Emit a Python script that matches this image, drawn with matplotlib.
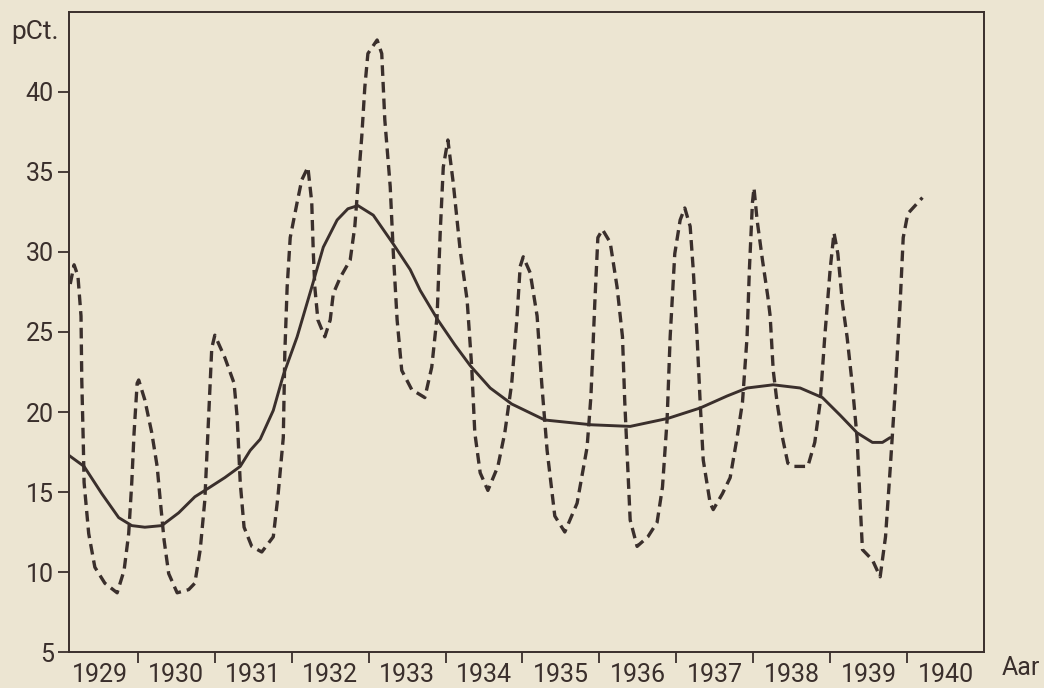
import matplotlib.pyplot as plt
from matplotlib.ticker import FixedLocator, NullFormatter, FixedFormatter

# seasonal unemployment (dashed), x in decimal years
monthly_x = [1929.12, 1929.17, 1929.22, 1929.26, 1929.27, 1929.29, 1929.30, 1929.36, 1929.44, 1929.57,
             1929.73, 1929.82, 1929.88, 1929.92, 1929.95, 1929.99, 1930.01, 1930.09, 1930.18, 1930.25,
             1930.29, 1930.34, 1930.40, 1930.51, 1930.66, 1930.74, 1930.81, 1930.87, 1930.91, 1930.94,
             1930.96, 1931.00, 1931.13, 1931.25, 1931.29, 1931.33, 1931.38, 1931.48, 1931.61, 1931.76,
             1931.82, 1931.89, 1931.91, 1931.94, 1931.98, 1932.07, 1932.13, 1932.21, 1932.26, 1932.28,
             1932.30, 1932.34, 1932.43, 1932.50, 1932.54, 1932.63, 1932.76, 1932.82, 1932.86, 1932.91,
             1932.95, 1932.99, 1933.11, 1933.17, 1933.21, 1933.28, 1933.32, 1933.37, 1933.43, 1933.56,
             1933.73, 1933.82, 1933.89, 1933.93, 1933.97, 1934.03, 1934.10, 1934.19, 1934.28, 1934.34,
             1934.38, 1934.45, 1934.55, 1934.68, 1934.77, 1934.86, 1934.93, 1934.97, 1935.01, 1935.10,
             1935.19, 1935.25, 1935.32, 1935.42, 1935.55, 1935.71, 1935.84, 1935.89, 1935.94, 1935.98,
             1936.04, 1936.14, 1936.23, 1936.30, 1936.33, 1936.37, 1936.40, 1936.49, 1936.63, 1936.75,
             1936.82, 1936.88, 1936.92, 1936.98, 1937.05, 1937.11, 1937.18, 1937.22, 1937.27, 1937.31,
             1937.35, 1937.44, 1937.48, 1937.60, 1937.70, 1937.79, 1937.86, 1937.92, 1937.95, 1937.99,
             1938.01, 1938.05, 1938.12, 1938.19, 1938.22, 1938.26, 1938.31, 1938.38, 1938.45, 1938.52,
             1938.71, 1938.80, 1938.87, 1938.93, 1939.00, 1939.05, 1939.10, 1939.16, 1939.22, 1939.29,
             1939.35, 1939.39, 1939.42, 1939.55, 1939.65, 1939.72, 1939.78, 1939.85, 1939.91, 1939.95,
             1940.01, 1940.20]
monthly_pct = [28.0, 29.2, 28.5, 26.0, 22.0, 18.0, 15.6, 12.4, 10.3, 9.3,
               8.7, 10.1, 12.4, 15.6, 18.7, 21.8, 22.0, 20.75, 18.7, 16.6,
               14.5, 12.0, 9.9, 8.7, 8.9, 9.3, 11.4, 14.5, 18.7, 21.8,
               24.0, 24.8, 23.4, 21.8, 19.7, 15.6, 12.8, 11.6, 11.25, 12.2,
               14.7, 18.4, 23.7, 27.8, 30.9, 33.1, 34.5, 35.3, 33.1, 30.0,
               27.8, 25.75, 24.7, 25.75, 27.4, 28.4, 29.5, 31.6, 34.1, 37.2,
               40.3, 42.4, 43.25, 42.4, 38.25, 34.1, 30.0, 25.75, 22.6, 21.4,
               20.9, 22.8, 26.0, 31.2, 35.3, 37.0, 34.3, 30.1, 27.0, 22.8,
               18.7, 16.2, 15.1, 16.6, 18.7, 21.8, 26.0, 29.1, 29.7, 28.7,
               26.0, 21.8, 17.6, 13.5, 12.5, 14.3, 17.8, 21.0, 26.8, 30.9,
               31.4, 30.6, 27.8, 24.7, 20.6, 16.4, 13.25, 11.6, 12.2, 13.1,
               15.3, 19.5, 24.7, 29.9, 32.0, 32.75, 31.6, 28.9, 24.7, 20.6,
               17.0, 14.3, 13.9, 14.9, 15.9, 18.4, 20.6, 24.7, 28.9, 33.1,
               34.0, 32.0, 29.5, 27.2, 26.0, 22.6, 20.6, 18.4, 16.8, 16.6,
               16.6, 18.1, 20.6, 24.7, 28.9, 31.2, 29.9, 26.8, 24.7, 21.6,
               18.4, 14.3, 11.4, 10.75, 9.7, 12.2, 16.4, 21.6, 26.8, 30.9,
               32.4, 33.4]

# trend line (solid)
trend_x = [1929.10, 1929.30, 1929.53, 1929.75, 1929.92, 1930.09, 1930.31, 1930.53, 1930.74, 1930.92,
           1931.13, 1931.33, 1931.46, 1931.59, 1931.76, 1931.89, 1932.07, 1932.26, 1932.41, 1932.59,
           1932.73, 1932.86, 1933.06, 1933.32, 1933.54, 1933.67, 1933.90, 1934.12, 1934.32, 1934.58,
           1934.86, 1935.29, 1935.90, 1936.40, 1936.89, 1937.31, 1937.66, 1937.92, 1938.26, 1938.61,
           1938.90, 1939.13, 1939.35, 1939.55, 1939.68, 1939.78]
trend_pct = [17.3, 16.6, 14.9, 13.4, 12.9, 12.8, 12.9, 13.7, 14.7, 15.25,
             15.9, 16.6, 17.6, 18.3, 20.1, 22.3, 24.7, 27.8, 30.3, 32.0,
             32.7, 32.9, 32.3, 30.5, 28.9, 27.6, 25.75, 24.2, 22.9, 21.5,
             20.5, 19.5, 19.2, 19.1, 19.6, 20.25, 21.0, 21.5, 21.7, 21.5,
             20.9, 19.8, 18.7, 18.1, 18.1, 18.4]

years = list(range(1929, 1941))
year_bounds = list(range(1930, 1941))
y_ticks = [5, 10, 15, 20, 25, 30, 35, 40]

paper = '#ece5d2'
ink = '#3a2f2c'

plt.rcParams['font.family'] = ['Roboto', 'DejaVu Sans']

fig = plt.figure(figsize=(10.44, 6.88), dpi=100, facecolor=paper)
ax = fig.add_axes([0.0661, 0.0523, 0.8764, 0.9303])
ax.set_facecolor(paper)

ax.plot(monthly_x, monthly_pct, color=ink, lw=2.4, dashes=(3.2, 1.8), dash_capstyle='butt')
ax.plot(trend_x, trend_pct, color=ink, lw=2.1, solid_capstyle='round')

ax.set_xlim(1929.104, 1941.0)
ax.set_ylim(5, 45)

for s in ax.spines.values():
    s.set_color(ink)
    s.set_linewidth(1.4)

# year boundaries as ticks, year names in between
ax.xaxis.set_major_locator(FixedLocator(year_bounds))
ax.xaxis.set_major_formatter(NullFormatter())
ax.xaxis.set_minor_locator(FixedLocator([y + 0.5 for y in years]))
ax.xaxis.set_minor_formatter(FixedFormatter([str(y) for y in years]))
ax.tick_params(axis='x', which='major', length=8, width=1.3, color=ink, direction='out')
ax.tick_params(axis='x', which='minor', length=0, pad=8, labelsize=18, labelcolor=ink)

ax.set_yticks(y_ticks)
ax.set_yticklabels([str(v) for v in y_ticks])
ax.tick_params(axis='y', length=8, width=1.3, color=ink, pad=3, labelsize=18, labelcolor=ink)

fig.text(0.011, 0.953, 'pCt.', fontsize=19, color=ink, ha='left', va='center')
fig.text(0.996, 0.012, 'Aar', fontsize=18, color=ink, ha='right', va='bottom')

fig.savefig('out.png', dpi=100, facecolor=paper)
